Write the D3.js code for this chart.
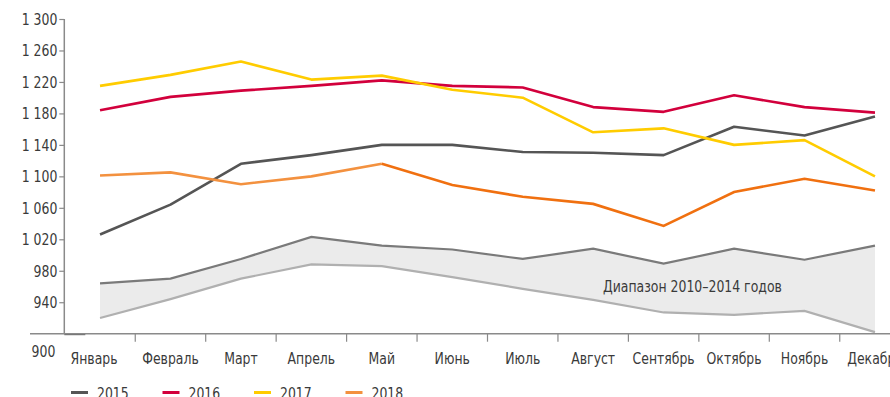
<!DOCTYPE html>
<html lang="ru">
<head>
<meta charset="utf-8">
<script src="https://cdn.jsdelivr.net/npm/d3@7/dist/d3.min.js"></script>
<style>
  html, body { margin: 0; padding: 0; background: #fff; }
  svg { display: block; }
  text { font-family: "DejaVu Sans Condensed", "DejaVu Sans", sans-serif; fill: #3a3a3a; }
</style>
</head>
<body>
<svg id="chart" width="890" height="397"></svg>
<script>
// Месяцы и значения по годам
const months = ["Январь", "Февраль", "Март", "Апрель", "Май", "Июнь", "Июль", "Август", "Сентябрь", "Октябрь", "Ноябрь", "Декабрь"];
const y2015 = [1026, 1064, 1116, 1127, 1140, 1140, 1131, 1130, 1127, 1163, 1152, 1176];
const y2016 = [1184, 1201, 1209, 1215, 1222, 1215, 1213, 1188, 1182, 1203, 1188, 1181];
const y2017 = [1215, 1229, 1246, 1223, 1228, 1210, 1200, 1156, 1161, 1140, 1146, 1100];
const y2018 = [1101, 1105, 1090, 1100, 1116, 1089, 1074, 1065, 1037, 1080, 1097, 1082];
// Диапазон 2010–2014 годов: верхняя и нижняя границы
const rangeHigh = [964, 970, 995, 1023, 1012, 1007, 995, 1008, 989, 1008, 994, 1012];
const rangeLow  = [920, 944, 970, 988, 986, 972, 957, 943, 927, 924, 929, 902];
const yTicks = [900, 940, 980, 1020, 1060, 1100, 1140, 1180, 1220, 1260, 1300];
const legendYears = ["2015", "2016", "2017", "2018"];

const colors = { "2015": "#555555", "2016": "#d2003c", "2017": "#ffcc00", "2018": "#f3913f" };
const color2018Late = "#f07010";
const fontSize = 16.5;
const narrow = 0.84; // горизонтальное сжатие подписей

const svg = d3.select("#chart");

const x = d3.scaleBand().domain(months).range([64.8, 910.2]).paddingInner(0).paddingOuter(0);
const cx = m => x(m) + x.bandwidth() / 2;
const y = d3.scaleLinear().domain([900, 1300]).range([333.7, 19]);

const ru = d3.formatLocale({ decimal: ",", thousands: " ", grouping: [3], currency: ["", ""] });
const fmt = ru.format(",");

// Диапазон 2010–2014
const rangeData = months.map((m, i) => ({ m, hi: rangeHigh[i], lo: rangeLow[i] }));
svg.append("path")
  .datum(rangeData)
  .attr("fill", "#ebebeb")
  .attr("d", d3.area().x(d => cx(d.m)).y0(d => y(d.lo)).y1(d => y(d.hi)));
svg.append("path")
  .datum(rangeData)
  .attr("fill", "none").attr("stroke", "#7a7a7a").attr("stroke-width", 2.2)
  .attr("d", d3.line().x(d => cx(d.m)).y(d => y(d.hi)));
svg.append("path")
  .datum(rangeData)
  .attr("fill", "none").attr("stroke", "#b0b0b0").attr("stroke-width", 2.2)
  .attr("d", d3.line().x(d => cx(d.m)).y(d => y(d.lo)));

svg.append("text")
  .attr("x", 603).attr("y", 292)
  .attr("font-size", fontSize)
  .text("Диапазон 2010–2014 годов");

// Вертикальная ось
const axisColor = "#8a8a8a";
const yAxis = svg.append("g")
  .attr("transform", "translate(64.3,0)")
  .call(d3.axisLeft(y).tickValues(yTicks).tickFormat(fmt).tickSize(5).tickPadding(2));
yAxis.select(".domain").attr("stroke", axisColor).attr("stroke-width", 1.5).attr("d", "M0," + y(1300) + "V" + y(900));
yAxis.selectAll(".tick line").attr("stroke", axisColor).attr("stroke-width", 1.2);
yAxis.selectAll(".tick text").attr("font-size", fontSize).attr("fill", "#3a3a3a").style("font-family", null);
yAxis.selectAll(".tick").filter(d => d === 900).each(function () {
  const t = d3.select(this);
  t.select("line").attr("x2", 21).attr("stroke", "#666").attr("stroke-width", 2);
  t.select("text").attr("x", -9).attr("dy", "1.4em");
});

// Горизонтальная ось
svg.append("line")
  .attr("x1", 30).attr("x2", 890).attr("y1", y(900)).attr("y2", y(900))
  .attr("stroke", axisColor).attr("stroke-width", 1.5);
svg.append("g").selectAll("line")
  .data(months.slice(1))
  .join("line")
  .attr("x1", d => x(d)).attr("x2", d => x(d))
  .attr("y1", y(900)).attr("y2", y(900) + 8)
  .attr("stroke", axisColor).attr("stroke-width", 1.2);
svg.append("g").selectAll("text")
  .data(months)
  .join("text")
  .attr("x", (d, i) => cx(d) - (i === 0 ? 6 : 0))
  .attr("y", 364)
  .attr("text-anchor", "middle")
  .attr("font-size", fontSize)
  .text(d => d);

// Линии по годам
const line = d3.line().x(d => cx(d.m)).y(d => y(d.v));
const toPts = arr => months.map((m, i) => ({ m, v: arr[i] }));
[["2015", y2015], ["2016", y2016], ["2017", y2017]].forEach(([k, arr]) => {
  svg.append("path").datum(toPts(arr))
    .attr("fill", "none").attr("stroke", colors[k]).attr("stroke-width", 2.6)
    .attr("stroke-linejoin", "round")
    .attr("d", line);
});
const pts2018 = toPts(y2018);
svg.append("path").datum(pts2018.slice(0, 5))
  .attr("fill", "none").attr("stroke", colors["2018"]).attr("stroke-width", 2.6)
  .attr("d", line);
svg.append("path").datum(pts2018.slice(4))
  .attr("fill", "none").attr("stroke", color2018Late).attr("stroke-width", 2.6)
  .attr("d", line);

// Легенда
const leg = svg.append("g").selectAll("g")
  .data(legendYears)
  .join("g")
  .attr("transform", (d, i) => `translate(${71 + i * 91.5},392.5)`);
leg.append("line").attr("x1", 0).attr("x2", 17).attr("y1", 0).attr("y2", 0)
  .attr("stroke", d => colors[d]).attr("stroke-width", 3);
leg.append("text").attr("x", 26).attr("y", 6).attr("font-size", fontSize).text(d => d);

// Узкое начертание: сжимаем каждую подпись по горизонтали вокруг точки привязки
svg.selectAll("text").each(function () {
  const t = d3.select(this);
  const ax = +t.attr("x") || 0;
  t.attr("transform", `translate(${ax},0) scale(${narrow},1) translate(${-ax},0)`);
});
</script>
</body>
</html>
